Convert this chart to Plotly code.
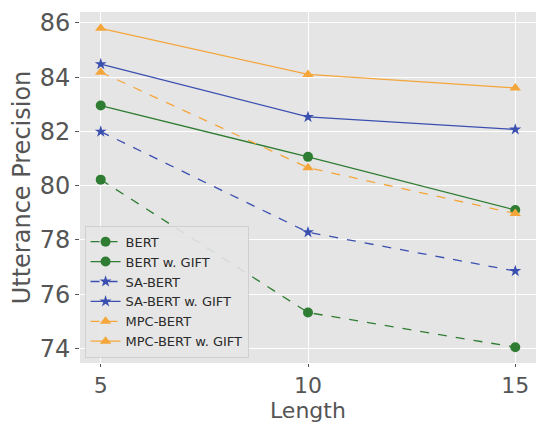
import plotly.graph_objects as go

lengths = [5, 10, 15]
bert = [80.22, 75.32, 74.04]
bert_gift = [82.95, 81.06, 79.10]
sa_bert = [81.99, 78.28, 76.85]
sa_bert_gift = [84.48, 82.53, 82.07]
mpc_bert = [84.18, 80.66, 78.97]
mpc_bert_gift = [85.80, 84.10, 83.60]

GREEN = "#2f7d32"
BLUE = "#3a4fb0"
ORANGE = "#f5a63b"

series = [
    ("BERT", bert, GREEN, "circle", "dash", 10),
    ("BERT w. GIFT", bert_gift, GREEN, "circle", "solid", 10),
    ("SA-BERT", sa_bert, BLUE, "star", "dash", 9),
    ("SA-BERT w. GIFT", sa_bert_gift, BLUE, "star", "solid", 9),
    ("MPC-BERT", mpc_bert, ORANGE, "triangle-up", "dash", 10),
    ("MPC-BERT w. GIFT", mpc_bert_gift, ORANGE, "triangle-up", "solid", 10),
]

fig = go.Figure()
for name, ys, col, sym, dash, sz in series:
    fig.add_trace(go.Scatter(
        x=lengths, y=ys, name=name, mode="lines+markers",
        line=dict(color=col, width=1.3, dash=dash),
        marker=dict(color=col, symbol=sym, size=sz, line=dict(width=0)),
    ))

H = 424
B = 61
T = 12
tick_font = dict(family="DejaVu Sans", size=24, color="#555555")
xtick_font = dict(family="DejaVu Sans", size=22, color="#555555")
title_font = dict(family="DejaVu Sans", size=22, color="#555555")
fig.update_layout(
    width=536, height=H,
    margin=dict(l=80, r=0, t=T, b=B),
    paper_bgcolor="white",
    plot_bgcolor="#e5e5e5",
    showlegend=True,
    legend=dict(
        x=0.01, y=0.015, xanchor="left", yanchor="bottom",
        bgcolor="rgba(229,229,229,0.9)", bordercolor="#d0d0d0", borderwidth=1,
        font=dict(family="DejaVu Sans", size=13, color="#2a2a2a"),
        tracegroupgap=0, itemwidth=30,
    ),
    xaxis=dict(
        range=[4.5, 15.5], tickvals=lengths, ticktext=["5", "10", "15"],
        showgrid=True, gridcolor="white", gridwidth=1.2, zeroline=False,
        ticks="outside", ticklen=3, tickcolor="#555555",
        tickfont=xtick_font,
    ),
    yaxis=dict(
        range=[73.46, 86.4], tickvals=[74, 76, 78, 80, 82, 84, 86],
        showgrid=True, gridcolor="white", gridwidth=1.2, zeroline=False,
        ticks="outside", ticklen=4, tickcolor="#555555",
        tickfont=tick_font,
        title=dict(text="Utterance Precision", font=tick_font, standoff=2),
    ),
    annotations=[dict(
        text="Length", font=title_font, showarrow=False,
        xref="paper", yref="paper", x=0.5, y=-B / (H - B - T),
        xanchor="center", yanchor="bottom", borderpad=0,
    )],
)

fig.write_html("out.html")
